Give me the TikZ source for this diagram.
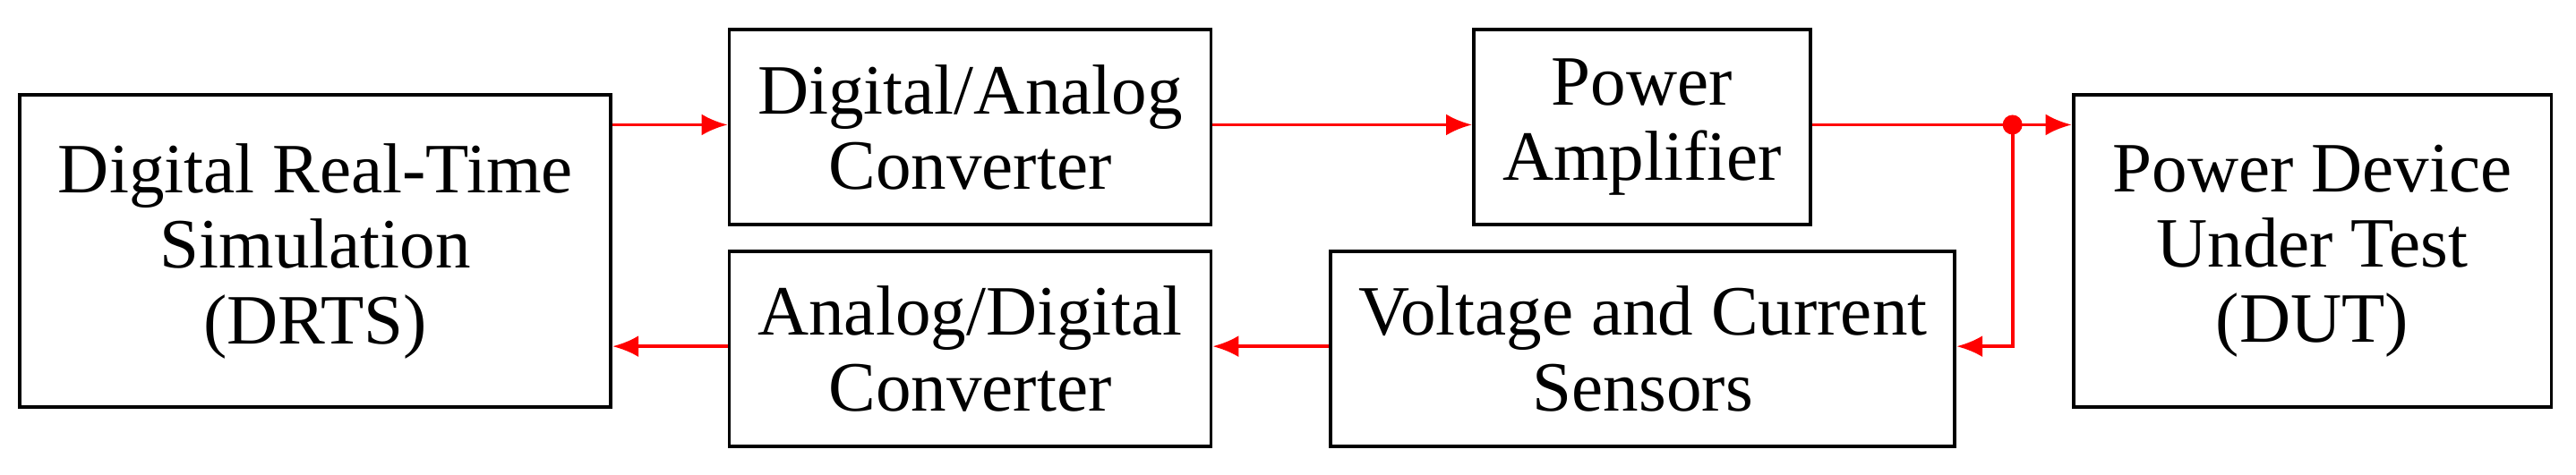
\documentclass[tikz,border=0pt]{standalone}
\usepackage{fontspec}
\setmainfont{Liberation Serif}
\usetikzlibrary{positioning,arrows.meta}
\begin{document}
\begin{tikzpicture}[x=0.1835mm, y=-0.1835mm,
block/.style={rectangle, draw=black, line width=1.1pt, align=center, inner sep=0pt,
  font=\fontsize{22.5}{24}\selectfont},
signal/.style={draw=red, line width=1.1pt, -{Latex[length=2.9mm,width=2.4mm]}},
]
\useasboundingbox (0,0) rectangle (1568,289);

% blocks
\node[block, minimum width=66mm, minimum height=34.9mm](drts) at (192,153){Digital Real-Time\\Simulation\\(DRTS)};
\node[block, minimum width=53.8mm, minimum height=21.8mm](dac) at (590.5,77.5){Digital/Analog\\Converter};
\node[block, minimum width=37.6mm, minimum height=21.8mm](amp) at (999.5,77.5){Power\\Amplifier};
\node[block, minimum width=53.4mm, minimum height=34.9mm](dut) at (1407.5,153){Power Device\\Under Test\\(DUT)};
\node[block, minimum width=53.8mm, minimum height=21.8mm](adc) at (590.5,212.5){Analog/Digital\\Converter};
\node[block, minimum width=69.7mm, minimum height=21.8mm](sens) at (1000,212.5){Voltage and Current\\Sensors};

\coordinate (split) at (1225,76);
\coordinate (back) at (1225,211);

% signals
\draw[signal] (drts.east |- 0,76) -- (dac.west |- 0,76);
\draw[signal] (dac.east |- 0,76) -- (amp.west |- 0,76);
\draw[signal] (amp.east |- 0,76) -- (dut.west |- split);
\draw[signal] (split) -- (back) -- (sens.east |- back);
\fill[red] (split) circle (1.1mm);
\draw[signal] (sens.west |- back) -- (adc.east |- back);
\draw[signal] (adc.west |- back) -- (drts.east |- back);
\end{tikzpicture}
\end{document}
